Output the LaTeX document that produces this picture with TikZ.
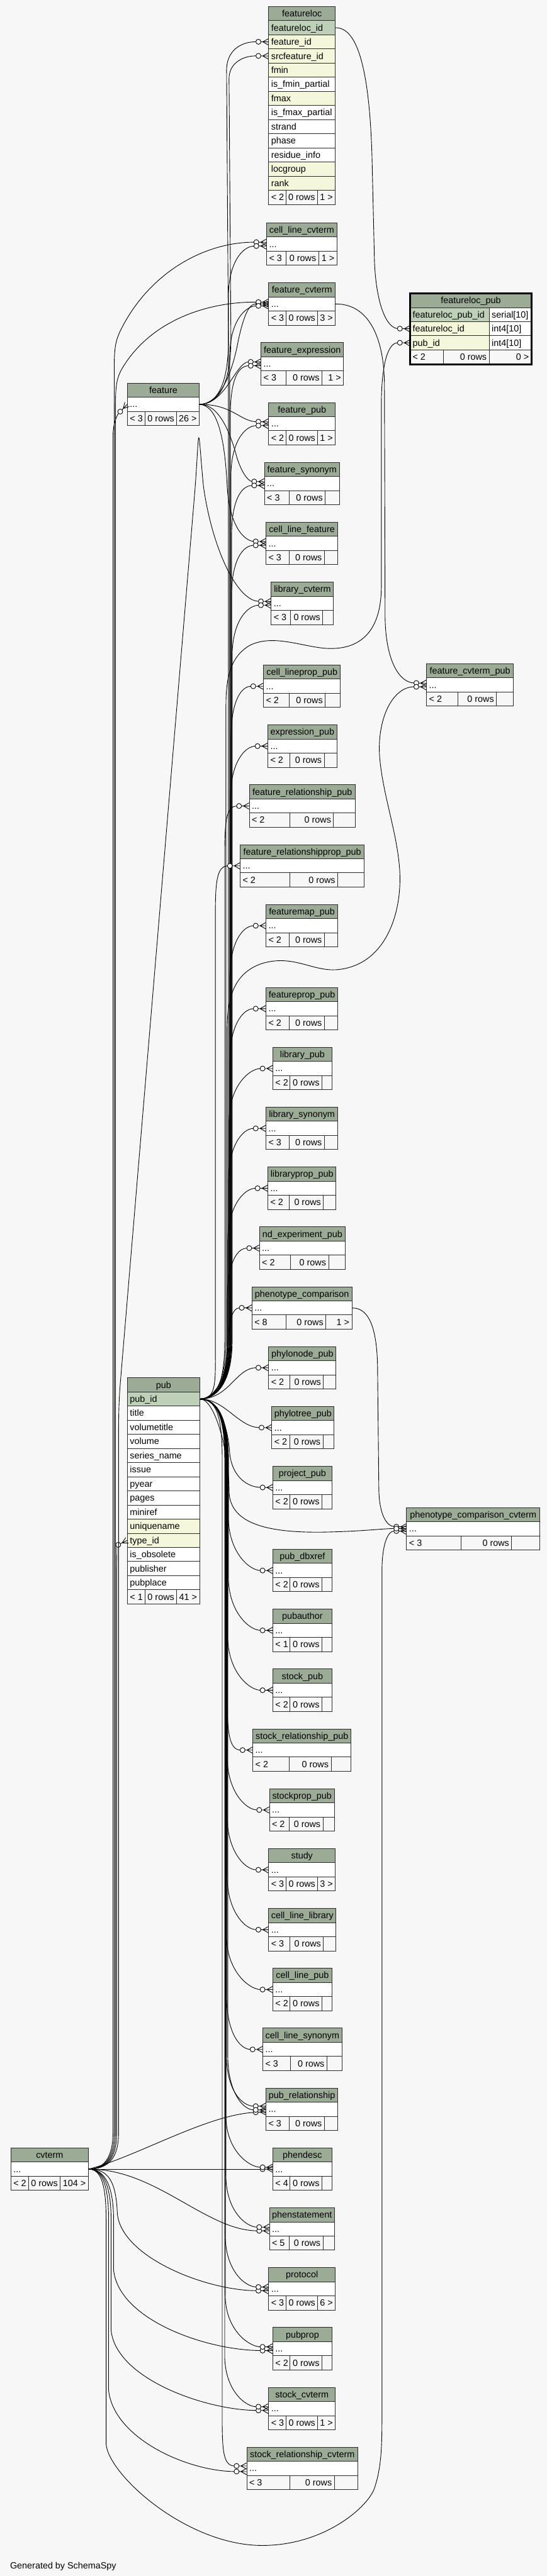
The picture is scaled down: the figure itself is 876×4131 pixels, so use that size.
\documentclass[tikz,border=0pt]{standalone}
\usepackage{fontspec}
\setmainfont{Liberation Sans}
\usetikzlibrary{arrows.meta,calc}
\definecolor{bgc}{HTML}{F7F7F7}
\definecolor{hdc}{HTML}{9BAB96}
\definecolor{pkc}{HTML}{BED1B8}
\definecolor{ixc}{HTML}{F4F7DA}
\definecolor{ftc}{HTML}{F7F7F7}
\definecolor{bdc}{HTML}{2B2B2B}
\pgfdeclarearrow{
  name = CrowO,
  setup code = {
    \pgfarrowssettipend{0pt}
    \pgfarrowssetlineend{-19pt}
    \pgfarrowssetvisualbackend{-20pt}
    \pgfarrowssetbackend{-20pt}
    \pgfarrowshullpoint{0pt}{5.5pt}
    \pgfarrowshullpoint{0pt}{-5.5pt}
    \pgfarrowshullpoint{-20pt}{4pt}
    \pgfarrowshullpoint{-20pt}{-4pt}
  },
  drawing code = {
    \pgfsetdash{}{0pt}
    \pgfpathmoveto{\pgfqpoint{0pt}{5pt}}
    \pgfpathlineto{\pgfqpoint{-9pt}{0pt}}
    \pgfpathlineto{\pgfqpoint{0pt}{-5pt}}
    \pgfpathmoveto{\pgfqpoint{0pt}{0pt}}
    \pgfpathlineto{\pgfqpoint{-12pt}{0pt}}
    \pgfusepathqstroke
    \pgfpathcircle{\pgfqpoint{-16pt}{0pt}}{4pt}
    \pgfsetfillcolor{white}
    \pgfusepathqfillstroke
  }
}
\tikzset{
  tcell/.style={draw=bdc, line width=1pt, anchor=north west, inner xsep=4pt, inner ysep=0pt,
    minimum height=22.67pt, text height=11pt, text depth=1pt, font=\fontsize{14.5}{17}\selectfont},
  fk/.style={draw=black, line width=0.9pt, -{CrowO}}
}
\newcommand{\thead}[5]{%
  \pgfmathsetmacro\wA{#3-#2}%
  \node[tcell, fill=hdc, minimum width=\wA pt] (#1) at (#2,#4) {#5};}
\newcommand{\trow}[6]{%
  \pgfmathsetmacro\wB{#3-#2-8}%
  \node[tcell, fill=#5] (#1) at (#2,#4) {\makebox[\wB pt][l]{#6}};}
\newcommand{\tfoot}[8]{%
  \pgfmathsetmacro\wC{#5-#2-8}%
  \node[tcell, fill=ftc] (#1-f1) at (#2,#4) {\makebox[\wC pt][l]{#7}};
  \pgfmathsetmacro\wD{#6-#5-8}%
  \node[tcell, fill=ftc] (#1-f2) at (#5,#4) {\makebox[\wD pt][r]{0 rows}};
  \pgfmathsetmacro\wE{#3-#6-8}%
  \node[tcell, fill=ftc] (#1-f3) at (#6,#4) {\makebox[\wE pt][r]{#8}};}
\newcommand{\dtab}[9]{%
  \thead{#1-h}{#3}{#4}{#5}{#2}
  \trow{#1-r}{#3}{#4}{#5+22.67}{white}{...}
  \tfoot{#1}{#3}{#4}{#5+45.33}{#6}{#7}{#8}{#9}}
\newcommand{\pubup}[4]{%
  \draw[fk] (pub-pk.east) .. controls +(28,0) and (#3,2215) .. (#3,2150) -- (#3,#4+85)
    .. controls (#3,#4+30) and ($(#1-r.west)+(-38,#2)$) .. ($(#1-r.west)+(0,#2)$);}
\newcommand{\pubdown}[4]{%
  \draw[fk] (pub-pk.east) .. controls +(28,0) and (#3,2275) .. (#3,2340) -- (#3,#4-85)
    .. controls (#3,#4-30) and ($(#1-r.west)+(-38,#2)$) .. ($(#1-r.west)+(0,#2)$);}
\begin{document}
\begin{tikzpicture}[x=1pt,y=-1pt]
\useasboundingbox (0,0) rectangle (876,4131);
\fill[bgc] (0,0) rectangle (876,4131);

% ---------------- tables ----------------
% featureloc
\thead{floc-h}{430}{536.7}{10}{featureloc}
\trow{floc-pk}{430}{536.7}{32.67}{pkc}{featureloc\_id}
\trow{floc-fid}{430}{536.7}{55.33}{ixc}{feature\_id}
\trow{floc-sfid}{430}{536.7}{78}{ixc}{srcfeature\_id}
\trow{floc-fmin}{430}{536.7}{100.67}{ixc}{fmin}
\trow{floc-ifp}{430}{536.7}{123.33}{white}{is\_fmin\_partial}
\trow{floc-fmax}{430}{536.7}{146}{ixc}{fmax}
\trow{floc-ixp}{430}{536.7}{168.67}{white}{is\_fmax\_partial}
\trow{floc-strand}{430}{536.7}{191.33}{white}{strand}
\trow{floc-phase}{430}{536.7}{214}{white}{phase}
\trow{floc-ri}{430}{536.7}{236.67}{white}{residue\_info}
\trow{floc-lg}{430}{536.7}{259.33}{ixc}{locgroup}
\trow{floc-rank}{430}{536.7}{282}{ixc}{rank}
\tfoot{floc}{430}{536.7}{304.67}{457.7}{508.3}{< 2}{1 >}

% featureloc_pub
\thead{flpub-h}{656.7}{851}{470}{featureloc\_pub}
\trow{flpub-pk}{656.7}{783.3}{492.67}{pkc}{featureloc\_pub\_id}
\trow{flpub-pkt}{783.3}{851}{492.67}{white}{serial[10]}
\trow{flpub-fl}{656.7}{783.3}{515.33}{ixc}{featureloc\_id}
\trow{flpub-flt}{783.3}{851}{515.33}{white}{int4[10]}
\trow{flpub-pid}{656.7}{783.3}{538}{ixc}{pub\_id}
\trow{flpub-pidt}{783.3}{851}{538}{white}{int4[10]}
\tfoot{flpub}{656.7}{851}{560.67}{710}{783.3}{< 2}{0 >}
\draw[line width=3pt, draw=black] (flpub-h.north west) rectangle (flpub-f3.south east);

% pub
\thead{pub-h}{203.7}{319.3}{2209}{pub}
\trow{pub-pk}{203.7}{319.3}{2231.67}{pkc}{pub\_id}
\trow{pub-title}{203.7}{319.3}{2254.33}{white}{title}
\trow{pub-vt}{203.7}{319.3}{2277}{white}{volumetitle}
\trow{pub-vol}{203.7}{319.3}{2299.67}{white}{volume}
\trow{pub-sn}{203.7}{319.3}{2322.33}{white}{series\_name}
\trow{pub-issue}{203.7}{319.3}{2345}{white}{issue}
\trow{pub-pyear}{203.7}{319.3}{2367.67}{white}{pyear}
\trow{pub-pages}{203.7}{319.3}{2390.33}{white}{pages}
\trow{pub-miniref}{203.7}{319.3}{2413}{white}{miniref}
\trow{pub-un}{203.7}{319.3}{2435.67}{ixc}{uniquename}
\trow{pub-type}{203.7}{319.3}{2458.33}{ixc}{type\_id}
\trow{pub-obs}{203.7}{319.3}{2481}{white}{is\_obsolete}
\trow{pub-publisher}{203.7}{319.3}{2503.67}{white}{publisher}
\trow{pub-place}{203.7}{319.3}{2526.33}{white}{pubplace}
\tfoot{pub}{203.7}{319.3}{2549}{232.2}{282.7}{< 1}{41 >}

% small tables
\dtab{clcv}{cell\_line\_cvterm}{426.7}{539.3}{357}{457.7}{510}{< 3}{1 >}
\dtab{fcv}{feature\_cvterm}{430}{536.7}{453}{457.7}{508.7}{< 3}{3 >}
\dtab{fexpr}{feature\_expression}{417.7}{550}{549}{457.7}{515.3}{< 3}{1 >}
\dtab{fpub}{feature\_pub}{430}{536.7}{645}{457.7}{508.7}{< 2}{1 >}
\dtab{fsyn}{feature\_synonym}{423.3}{543.3}{741}{463.3}{520.7}{< 3}{}
\dtab{clfeat}{cell\_line\_feature}{425.7}{540.7}{837}{463.3}{519.3}{< 3}{}
\dtab{libcv}{library\_cvterm}{434}{534}{933}{465}{516.7}{< 3}{}
\dtab{clpp}{cell\_lineprop\_pub}{421.7}{545}{1066}{463.3}{520.7}{< 2}{}
\dtab{exprpub}{expression\_pub}{428.7}{539.3}{1162}{464.3}{519}{< 2}{}
\dtab{frelpub}{feature\_relationship\_pub}{399}{568.7}{1258}{464.3}{534}{< 2}{}
\dtab{frelppub}{feature\_relationshipprop\_pub}{384.3}{583.3}{1354}{464.3}{540.7}{< 2}{}
\dtab{fmappub}{featuremap\_pub}{425.7}{540.7}{1450}{463.3}{519.3}{< 2}{}
\dtab{fproppub}{featureprop\_pub}{425.7}{540.7}{1583}{463.3}{519.3}{< 2}{}
\dtab{libpub}{library\_pub}{436.7}{531.3}{1679}{464.3}{515.3}{< 2}{}
\dtab{libsyn}{library\_synonym}{425.7}{540.7}{1775}{463.3}{519.3}{< 3}{}
\dtab{libppub}{libraryprop\_pub}{428.7}{538}{1871}{463.3}{517.7}{< 2}{}
\dtab{ndexp}{nd\_experiment\_pub}{415.3}{552.7}{1967}{464.7}{526}{< 2}{}
\dtab{phencomp}{phenotype\_comparison}{403.3}{563.3}{2063}{457.7}{521.7}{< 8}{1 >}
\dtab{phylonode}{phylonode\_pub}{430}{538}{2159}{464.3}{517.7}{< 2}{}
\dtab{phylotree}{phylotree\_pub}{435}{535}{2255}{464.3}{517}{< 2}{}
\dtab{projpub}{project\_pub}{436.7}{531.3}{2351}{464.3}{515.3}{< 2}{}
\dtab{pubdbx}{pub\_dbxref}{436.7}{531.3}{2484}{464.3}{515.3}{< 2}{}
\dtab{pubauth}{pubauthor}{436.7}{531.3}{2580}{464.3}{515.3}{< 1}{}
\dtab{stockpub}{stock\_pub}{436.7}{531.3}{2676}{464.3}{515.3}{< 2}{}
\dtab{stockrelpub}{stock\_relationship\_pub}{404.7}{562}{2772}{463.3}{530}{< 2}{}
\dtab{stockprop}{stockprop\_pub}{431.3}{535.3}{2868}{463.3}{517}{< 2}{}
\dtab{study}{study}{430}{536.7}{2964}{457.7}{508.7}{< 3}{3 >}
\dtab{cllib}{cell\_line\_library}{430}{538}{3060}{464.3}{517.7}{< 3}{}
\dtab{clpub}{cell\_line\_pub}{436.7}{531.3}{3156}{464.3}{515.3}{< 2}{}
\dtab{clsyn}{cell\_line\_synonym}{420.7}{547.3}{3252}{464.7}{523.3}{< 3}{}
\dtab{pubrel}{pub\_relationship}{425.7}{540.7}{3348}{463.3}{519.3}{< 3}{}
\dtab{phendesc}{phendesc}{436.7}{531.3}{3444}{464.3}{515.3}{< 4}{}
\dtab{phenst}{phenstatement}{431.3}{535.3}{3540}{463.3}{517}{< 5}{}
\dtab{protocol}{protocol}{430}{536.7}{3636}{457.7}{508.7}{< 3}{6 >}
\dtab{pubprop}{pubprop}{436.7}{531.3}{3732}{464.3}{515.3}{< 2}{}
\dtab{stockcv}{stock\_cvterm}{430}{536.7}{3828}{457.7}{508.7}{< 3}{1 >}
\dtab{srcv}{stock\_relationship\_cvterm}{395}{572.7}{3924}{464.3}{535.3}{< 3}{}
\dtab{fcvpub}{feature\_cvterm\_pub}{683}{822}{1064}{733}{795}{< 2}{}
\dtab{pcc}{phenotype\_comparison\_cvterm}{651}{864.4}{2417}{738}{819.3}{< 3}{}
\dtab{feature}{feature}{203.7}{318.7}{614}{231.7}{282.7}{< 3}{26 >}
\dtab{cvterm}{cvterm}{17}{141}{3444}{45}{96}{< 2}{104 >}

% ---------------- connectors ----------------
% feature
\draw[fk] (feature-r.east) .. controls (350,648) and (366,612) .. (366,545) -- (363,115) .. controls (362,82) and (385,66.67) .. (floc-fid.west);
\draw[fk] (feature-r.east) .. controls (352,648) and (370,612) .. (370,545) -- (367,128) .. controls (366,102) and (388,89.33) .. (floc-sfid.west);
\draw[fk] (feature-r.east) .. controls (352,648) and (372,600) .. (382,545) .. controls (392,500) and (400,487) .. (fcv-r.west);
\draw[fk] (feature-r.east) .. controls (362,648) and (378,580) .. ($(fexpr-r.west)+(0,-3)$);
\draw[fk] (feature-r.east) .. controls (372,648) and (385,676) .. ($(fpub-r.west)+(0,-3)$);
\draw[fk] (feature-r.east) .. controls (350,648) and (368,690) .. (380,735) .. controls (390,765) and (400,772) .. ($(fsyn-r.west)+(0,-3)$);
\draw[fk] (feature-r.east) .. controls (348,650) and (360,700) .. (364,780) .. controls (368,850) and (395,868) .. ($(clfeat-r.west)+(0,-3)$);

% cvterm upwards
\draw[fk] (cvterm-r.east) .. controls (165,3478) and (181,3462) .. (181,3420) -- (181,700) .. controls (181,680) and (187,666) .. (feature-r.west);
\draw[fk] (cvterm-r.east) .. controls (167,3478) and (183,3462) .. (183,3420) -- (183,590) .. controls (183,555) and (186,545) .. (193,530) .. controls (240,435) and (330,388) .. ($(clcv-r.west)+(0,-3)$);
\draw[fk] (cvterm-r.east) .. controls (169,3478) and (185,3462) .. (185,3420) -- (185,650) .. controls (185,615) and (188,605) .. (195,592) .. controls (240,515) and (330,484) .. ($(fcv-r.west)+(0,-3)$);
\draw[fk] (cvterm-r.east) .. controls (171,3478) and (187,3462) .. (187,3420) -- (187,2520) .. controls (187,2495) and (188,2478) .. (pub-type.west);
\draw[fk] (cvterm-r.east) .. controls (173,3478) and (190,3462) .. (190,3420) -- (190,2300) .. controls (190,2260) and (191,2240) .. (193,2215) -- (312,790) .. controls (316,740) and (317,702) .. (318.5,702) .. controls (320,702) and (322,740) .. (326,780) .. controls (340,880) and (380,964) .. ($(libcv-r.west)+(0,-3)$);

% cvterm downwards
\draw[fk] (cvterm-r.east) .. controls (220,3458) and (330,3392) .. ($(pubrel-r.west)+(0,4)$);
\draw[fk] (cvterm-r.east) -- (phendesc-r.west);
\draw[fk] (cvterm-r.east) .. controls (250,3478) and (330,3577) .. ($(phenst-r.west)+(0,3)$);
\draw[fk] (cvterm-r.east) .. controls (175,3478) and (186,3500) .. (188,3550) .. controls (195,3620) and (330,3673) .. ($(protocol-r.west)+(0,3)$);
\draw[fk] (cvterm-r.east) .. controls (170,3478) and (182,3510) .. (182,3560) -- (182,3640) .. controls (190,3720) and (330,3769) .. ($(pubprop-r.west)+(0,3)$);
\draw[fk] (cvterm-r.east) .. controls (168,3478) and (178,3510) .. (178,3560) -- (178,3737) .. controls (186,3815) and (330,3865) .. ($(stockcv-r.west)+(0,3)$);
\draw[fk] (cvterm-r.east) .. controls (166,3478) and (174,3510) .. (174,3560) -- (174,3833) .. controls (182,3910) and (300,3963) .. ($(srcv-r.west)+(0,5)$);
\draw[fk] (cvterm-r.east) .. controls (164,3478) and (170,3510) .. (170,3560) -- (170,3920) .. controls (175,3970) and (300,4082) .. (420,4082) .. controls (520,4082) and (590,4020) .. (600,3990) .. controls (610,3960) and (612,3930) .. (612,3880) -- (612,2520) .. controls (612,2480) and (620,2455) .. ($(pcc-r.west)+(0,4)$);

% other parents
\draw[fk] (floc-pk.east) .. controls (575,44) and (592,120) .. (596,250) -- (600,420) .. controls (603,490) and (620,526.67) .. (flpub-fl.west);
\draw[fk] (fcv-r.east) .. controls (590,487) and (616,540) .. (616,620) -- (617,990) .. controls (618,1060) and (640,1095) .. ($(fcvpub-r.west)+(0,-3)$);
\draw[fk] (phencomp-r.east) .. controls (595,2097) and (605,2140) .. (605,2200) -- (607,2390) .. controls (608,2430) and (620,2448) .. ($(pcc-r.west)+(0,-3)$);

% pub special routes
\draw[fk] (pub-pk.east) .. controls (345,2243) and (362,2215) .. (362,2150) -- (362,1130) .. controls (362,1075) and (375,1050) .. (400,1035) .. controls (440,1015) and (490,1040) .. (530,1040) .. controls (580,1040) and (611,1010) .. (611,940) -- (611,650) .. controls (611,590) and (620,549.33) .. (flpub-pid.west);
\draw[fk] (pub-pk.east) .. controls (345,2243) and (364,2215) .. (364,2150) -- (364,1650) .. controls (364,1600) and (375,1560) .. (420,1545) .. controls (470,1530) and (500,1558) .. (540,1555) .. controls (620,1548) and (646,1460) .. (640,1390) .. controls (635,1330) and (612,1270) .. (608,1210) .. controls (605,1150) and (630,1101) .. ($(fcvpub-r.west)+(0,3)$);
\draw[fk] (pub-pk.east) .. controls (345,2243) and (367,2330) .. (367,2390) .. controls (367,2440) and (420,2458) .. (515,2457) .. controls (580,2456) and (615,2451) .. (pcc-r.west);
\draw[fk] (pub-pk.east) .. controls (345,2243) and (365,2205) .. (365,2165) .. controls (365,2120) and (372,2097) .. (phencomp-r.west);
\draw[fk] (pub-pk.east) .. controls (368,2243) and (378,2193) .. (phylonode-r.west);
\draw[fk] (pub-pk.east) .. controls (360,2243) and (382,2289) .. (phylotree-r.west);
\draw[fk] (pub-pk.east) .. controls (350,2243) and (366,2290) .. (368,2330) .. controls (372,2370) and (398,2385) .. (projpub-r.west);

% pub bundle upwards
\pubup{clcv}{3}{366}{391}
\pubup{fcv}{3}{368}{487}
\pubup{fexpr}{3}{369}{583}
\pubup{fpub}{3}{370}{679}
\pubup{fsyn}{3}{371}{775}
\pubup{clfeat}{3}{371}{871}
\pubup{libcv}{3}{372}{967}
\pubup{clpp}{0}{370}{1100}
\pubup{exprpub}{0}{369}{1196}
\pubup{frelpub}{0}{360}{1292}
\pubup{frelppub}{0}{345}{1388}
\pubup{fmappub}{0}{368}{1484}
\pubup{fproppub}{0}{368}{1617}
\pubup{libpub}{0}{367}{1713}
\pubup{libsyn}{0}{366}{1809}
\pubup{libppub}{0}{365}{1905}
\pubup{ndexp}{0}{364}{2001}

% pub bundle downwards
\pubdown{pubdbx}{0}{366}{2518}
\pubdown{pubauth}{0}{366}{2614}
\pubdown{stockpub}{0}{365}{2710}
\pubdown{stockrelpub}{0}{364}{2806}
\pubdown{stockprop}{0}{364}{2902}
\pubdown{study}{0}{364}{2998}
\pubdown{cllib}{0}{364}{3094}
\pubdown{clpub}{0}{363}{3190}
\pubdown{clsyn}{0}{363}{3286}
\pubdown{pubrel}{-5}{363}{3382}
\pubdown{pubrel}{1}{365}{3382}
\pubdown{phendesc}{-3}{362}{3478}
\pubdown{phenst}{-3}{362}{3574}
\pubdown{protocol}{-3}{361}{3670}
\pubdown{pubprop}{-3}{361}{3766}
\pubdown{stockcv}{-3}{360}{3862}
\pubdown{srcv}{-4}{356}{3958}

\node[anchor=base west, inner sep=0pt, font=\fontsize{14.5}{17}\selectfont] (gen) at (16,4119) {Generated by SchemaSpy};
\end{tikzpicture}
\end{document}
